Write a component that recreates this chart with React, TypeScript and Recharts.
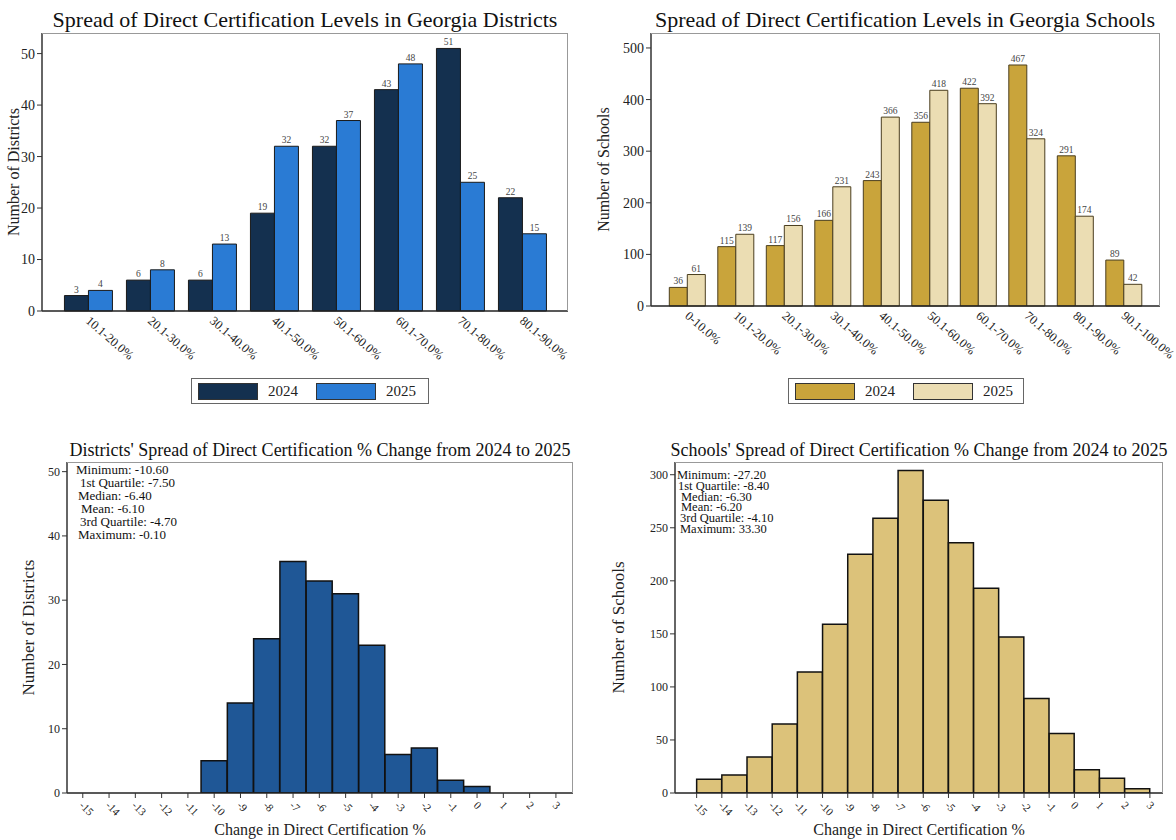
import React from 'react';
import { BarChart, Bar, XAxis, YAxis, LabelList } from 'recharts';

const FONT = '"Liberation Serif", "DejaVu Serif", serif';

// ---- Data ----
const districtBins = ['10.1-20.0%', '20.1-30.0%', '30.1-40.0%', '40.1-50.0%', '50.1-60.0%', '60.1-70.0%', '70.1-80.0%', '80.1-90.0%'];
const districts2024 = [3, 6, 6, 19, 32, 43, 51, 22];
const districts2025 = [4, 8, 13, 32, 37, 48, 25, 15];

const schoolBins = ['0-10.0%', '10.1-20.0%', '20.1-30.0%', '30.1-40.0%', '40.1-50.0%', '50.1-60.0%', '60.1-70.0%', '70.1-80.0%', '80.1-90.0%', '90.1-100.0%'];
const schools2024 = [36, 115, 117, 166, 243, 356, 422, 467, 291, 89];
const schools2025 = [61, 139, 156, 231, 366, 418, 392, 324, 174, 42];

const changeTicks = [-15, -14, -13, -12, -11, -10, -9, -8, -7, -6, -5, -4, -3, -2, -1, 0, 1, 2, 3];

const districtChangeCenters = [-10, -9, -8, -7, -6, -5, -4, -3, -2, -1, 0];
const districtChangeCounts = [5, 14, 24, 36, 33, 31, 23, 6, 7, 2, 1];

const schoolChangeStarts = [-15, -14, -13, -12, -11, -10, -9, -8, -7, -6, -5, -4, -3, -2, -1, 0, 1, 2];
const schoolChangeCounts = [13, 17, 34, 65, 114, 159, 225, 259, 304, 276, 236, 193, 147, 89, 56, 22, 14, 4];

const districtStats = ['Minimum: -10.60', '1st Quartile: -7.50', 'Median: -6.40', 'Mean: -6.10', '3rd Quartile: -4.70', 'Maximum: -0.10'];
const schoolStats = ['Minimum: -27.20', '1st Quartile: -8.40', 'Median: -6.30', 'Mean: -6.20', '3rd Quartile: -4.10', 'Maximum: 33.30'];

const yearLabels = ['2024', '2025'];

// ---- Helpers ----
const districtData = districtBins.map((c, i) => ({ cat: c, a: districts2024[i], b: districts2025[i] }));
const schoolData = schoolBins.map((c, i) => ({ cat: c, a: schools2024[i], b: schools2025[i] }));
const districtChangeData = districtChangeCenters.map((x, i) => ({ x, n: districtChangeCounts[i] }));
const schoolChangeData = schoolChangeStarts.map((s, i) => ({ x: s + 0.5, n: schoolChangeCounts[i] }));

const CatTick = (props: any) => {
  const { x, y, payload } = props;
  const tx = x - 3;
  const ty = y + 9;
  return (
    <text x={tx} y={ty} transform={`rotate(41, ${tx}, ${ty})`} textAnchor="start" fontFamily={FONT} fontSize={12.5} fill="#222">
      {payload.value}
    </text>
  );
};

const NumTick = (props: any) => {
  const { x, y, payload } = props;
  const tx = x - 4;
  const ty = y + 6;
  return (
    <text x={tx} y={ty} transform={`rotate(45, ${tx}, ${ty})`} textAnchor="start" fontFamily={FONT} fontSize={11} fill="#222">
      {payload.value}
    </text>
  );
};

const Title = ({ x, y, size, children }: any) => (
  <div style={{ position: 'absolute', left: x, top: y, transform: 'translateX(-50%)', whiteSpace: 'nowrap', fontFamily: FONT, fontSize: size, color: '#111', lineHeight: 1 }}>
    {children}
  </div>
);

const Frame = ({ x0, y0, x1, y1 }: any) => (
  <div style={{ position: 'absolute', left: x0, top: y0, width: x1 - x0, height: y1 - y0, boxSizing: 'border-box', borderTop: '1.5px solid #999', borderRight: '1.5px solid #999', pointerEvents: 'none' }} />
);

const LegendBox = ({ x, y, w, colors }: any) => (
  <div style={{ position: 'absolute', left: x, top: y, width: w, height: 26, boxSizing: 'border-box', border: '1px solid #666', display: 'flex', alignItems: 'center', fontFamily: FONT, fontSize: 15, color: '#222' }}>
    {yearLabels.map((yr, i) => (
      <div key={yr} style={{ display: 'flex', alignItems: 'center', marginLeft: i === 0 ? 6 : 18 }}>
        <div style={{ width: 58, height: 15, background: colors[i], border: '1px solid #333' }} />
        <span style={{ marginLeft: 10 }}>{yr}</span>
      </div>
    ))}
  </div>
);

const Stats = ({ x, y, lines, indents, lh, size }: any) => (
  <div style={{ position: 'absolute', left: x, top: y, fontFamily: FONT, fontSize: size, color: '#111', lineHeight: `${lh}px`, whiteSpace: 'nowrap' }}>
    {lines.map((l: string, i: number) => (
      <div key={l} style={{ paddingLeft: indents[i] }}>{l}</div>
    ))}
  </div>
);

const GroupedPanel = ({ left, width, data, yMax, yTicks, yLabel, yAxisW, marginRight, xHeight, pad, gap, colors, stroke }: any) => (
  <div style={{ position: 'absolute', left, top: 0 }}>
    <BarChart width={width} height={420} data={data} margin={{ top: 33, right: marginRight, bottom: 0, left: 0 }} barGap={0} barCategoryGap={gap}>
      <XAxis dataKey="cat" height={xHeight} interval={0} tick={<CatTick />} tickLine={false} tickSize={0} axisLine={{ stroke: '#222', strokeWidth: 1.5 }} padding={{ left: pad, right: pad }} />
      <YAxis width={yAxisW} domain={[0, yMax]} ticks={yTicks} interval={0} tickSize={5} tick={{ fontFamily: FONT, fontSize: 14, fill: '#222' }} tickLine={{ stroke: '#333' }} axisLine={{ stroke: '#333', strokeWidth: 1.5 }}
        label={{ value: yLabel, angle: -90, position: 'insideLeft', offset: 13, textAnchor: 'middle', style: { fontFamily: FONT, fontSize: 16, fill: '#222' } }} />
      <Bar dataKey="a" fill={colors[0]} stroke={stroke} strokeWidth={1} isAnimationActive={false}>
        <LabelList dataKey="a" position="top" offset={3} style={{ fontFamily: FONT, fontSize: 9.5, fill: '#444' }} />
      </Bar>
      <Bar dataKey="b" fill={colors[1]} stroke={stroke} strokeWidth={1} isAnimationActive={false}>
        <LabelList dataKey="b" position="top" offset={3} style={{ fontFamily: FONT, fontSize: 9.5, fill: '#444' }} />
      </Bar>
    </BarChart>
  </div>
);

const HistPanel = ({ left, width, data, domain, yMax, yTicks, yLabel, yAxisW, marginRight, color }: any) => (
  <div style={{ position: 'absolute', left, top: 430 }}>
    <BarChart width={width} height={410} data={data} margin={{ top: 32, right: marginRight, bottom: 0, left: 0 }} barGap={0} barCategoryGap={0}>
      <XAxis dataKey="x" type="number" domain={domain} allowDataOverflow ticks={changeTicks} interval={0} height={47} tick={<NumTick />} tickSize={5} tickLine={{ stroke: '#333' }} axisLine={{ stroke: '#222', strokeWidth: 1.5 }}
        label={{ value: 'Change in Direct Certification %', position: 'insideBottom', offset: 5, style: { fontFamily: FONT, fontSize: 16, fill: '#222' } }} />
      <YAxis width={yAxisW} domain={[0, yMax]} allowDataOverflow ticks={yTicks} interval={0} tickSize={5} tick={{ fontFamily: FONT, fontSize: 12, fill: '#222' }} tickLine={{ stroke: '#333' }} axisLine={{ stroke: '#333', strokeWidth: 1.5 }}
        label={{ value: yLabel, angle: -90, position: 'insideLeft', offset: 28, textAnchor: 'middle', style: { fontFamily: FONT, fontSize: 17, fill: '#222' } }} />
      <Bar dataKey="n" fill={color} stroke="#111" strokeWidth={1.5} isAnimationActive={false} />
    </BarChart>
  </div>
);

export default function App() {
  return (
    <div style={{ position: 'absolute', left: 0, top: 0, width: 1176, height: 840, background: '#fff', overflow: 'hidden' }}>
      <Title x={305} y={9} size={22}>Spread of Direct Certification Levels in Georgia Districts</Title>
      <Title x={905} y={9} size={22}>Spread of Direct Certification Levels in Georgia Schools</Title>
      <Title x={320} y={441} size={18}>Districts' Spread of Direct Certification % Change from 2024 to 2025</Title>
      <Title x={919} y={441} size={18}>Schools' Spread of Direct Certification % Change from 2024 to 2025</Title>

      <GroupedPanel left={0} width={590} data={districtData} yMax={54} yTicks={[0, 10, 20, 30, 40, 50]} yLabel="Number of Districts" yAxisW={42} marginRight={22} xHeight={109} pad={15} gap="12%" colors={['#14304F', '#2A7BD4']} stroke="#1a1a1a" />
      <GroupedPanel left={590} width={586} data={schoolData} yMax={529} yTicks={[0, 100, 200, 300, 400, 500]} yLabel="Number of Schools" yAxisW={61} marginRight={16} xHeight={114} pad={12} gap="13%" colors={['#C9A43B', '#EBDDB3']} stroke="#4a3e1e" />
      <Frame x0={42} y0={33} x1={568} y1={311} />
      <Frame x0={651} y0={33} x1={1160} y1={306} />

      <LegendBox x={191} y={378} w={238} colors={['#14304F', '#2A7BD4']} />
      <LegendBox x={788} y={378} w={236} colors={['#C9A43B', '#EBDDB3']} />

      <HistPanel left={0} width={590} data={districtChangeData} domain={[-15.6, 3.65]} yMax={51.5} yTicks={[0, 10, 20, 30, 40, 50]} yLabel="Number of Districts" yAxisW={67} marginRight={17} color="#1F5796" />
      <HistPanel left={590} width={586} data={schoolChangeData} domain={[-15.86, 3.52]} yMax={312} yTicks={[0, 50, 100, 150, 200, 250, 300]} yLabel="Number of Schools" yAxisW={85} marginRight={13} color="#DCC27A" />
      <Frame x0={67} y0={462} x1={573} y1={793} />
      <Frame x0={675} y0={462} x1={1163} y1={793} />

      <Stats x={76} y={463} lines={districtStats} indents={[0, 4, 2, 5, 4, 2]} lh={13} size={13} />
      <Stats x={677} y={470} lines={schoolStats} indents={[0, 1, 4, 4, 3, 3]} lh={10.8} size={12.5} />
    </div>
  );
}
